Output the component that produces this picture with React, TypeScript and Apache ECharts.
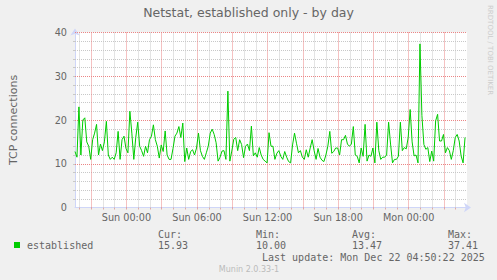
import { useEffect, useRef } from 'react';
import * as echarts from 'echarts';

// Time axis in hours relative to Sun 00:00
const AXIS_START_HOUR = -4.375;
const AXIS_END_HOUR = 28.9583;
const FIRST_SAMPLE_HOUR = -4.375;
const SAMPLE_STEP_HOURS = 1 / 6; // 10 minutes

const ESTABLISHED = [
  12.8, 11.5, 23, 12, 20, 20.5, 15, 14, 11, 15.5, 17, 19, 12, 14.5, 13, 15, 19.7, 12, 11, 11.5,
  11, 12.5, 17.4, 11, 15.5, 16.3, 13.5, 12.5, 22, 17, 11, 16, 19.5, 14,
  13, 11.7, 14, 12.5, 15.5, 16.3, 18.9, 15.5, 14, 11.3, 14.3, 12.8, 17.5, 12, 11, 11, 13.5, 16.3,
  17, 18.5, 16, 19.3, 10.5, 13.6, 11, 12.8, 13.2, 12, 13.6, 17, 13, 11.7, 11,
  12.5, 14, 17, 17.9, 16.7, 14.8, 10.6, 11.5, 12.9, 13, 11, 26.6, 10.6, 12.9, 15.6, 16, 13, 15.5,
  14.4, 11.4, 14, 14.5, 13, 18.6, 11.8, 12.5, 11.5, 13.7, 12, 11, 10.6, 10.2, 17.1, 14,
  14, 11, 12.4, 13, 11.7, 11, 12.8, 11.5, 10.5, 10.2, 14.3, 17, 14.7, 12.5, 13, 11.5, 11, 13.2,
  11.5, 13.6, 15.5, 13, 11, 13.5, 11.5, 10.8, 10.5, 12, 14, 17.4, 12.4, 12.8, 13.6,
  13.6, 12, 15.5, 15.5, 16.5, 14.5, 14, 14.5, 18.5, 12, 11.7, 10.2, 13.6, 11.7, 19, 10.6, 12, 11.7,
  13.6, 10.2, 19.5, 13, 11, 11.5, 11.5, 12, 19.5, 14.5, 10.2, 11, 11, 11.7, 19.5, 13,
  13.7, 13.4, 16, 22.4, 15, 11.8, 12, 10.2, 37.4, 21, 14.4, 13.3, 13.7, 10.5, 12.9, 10.6, 19.8,
  21.3, 15.2, 15.2, 16.7, 12.5, 13.7, 13, 11, 13, 16, 16.7, 15.2, 11.8, 10.2, 16,
];

const X_LABEL_HOURS = [0, 6, 12, 18, 24];
const X_LABELS = ['Sun 00:00', 'Sun 06:00', 'Sun 12:00', 'Sun 18:00', 'Mon 00:00'];
const Y_LABEL_VALUES = [0, 10, 20, 30, 40];
const Y_MIN = 0;
const Y_MAX = 40;

const TITLE = 'Netstat, established only - by day';
const Y_NAME = 'TCP connections';
const SERIES_NAME = 'established';
const LEGEND_HEADERS = ['Cur:', 'Min:', 'Avg:', 'Max:'];
const LEGEND_VALUES = ['15.93', '10.00', '13.47', '37.41'];
const LAST_UPDATE = 'Last update: Mon Dec 22 04:50:22 2025';
const FOOTER = 'Munin 2.0.33-1';
const WATERMARK = 'RRDTOOL / TOBI OETIKER';

const FONT = 'DejaVu Sans';
const MONO = 'DejaVu Sans Mono';
const TEXT = '#666666';
const GRAY = '#c8c8c8';
const RED = '#eb8585';
const AXIS = '#CFD6F8';
const GREEN = '#00CC00';

function hourRange(a: number, b: number, keep: (h: number) => boolean) {
  const out: number[] = [];
  for (let h = a; h <= b; h++) if (keep(h)) out.push(h);
  return out;
}

export default function App() {
  const ref = useRef<HTMLDivElement>(null);
  useEffect(() => {
    if (!ref.current) return;
    document.body.style.margin = '0';
    const chart = echarts.init(ref.current, undefined, { renderer: 'svg' });
    const allX = hourRange(Math.ceil(AXIS_START_HOUR), Math.floor(AXIS_END_HOUR), () => true);
    const minorX = allX.filter((h) => Math.abs(h % 3) !== 0);
    const majorX = allX.filter((h) => Math.abs(h % 3) === 0);
    const minorY: number[] = [];
    const majorY: number[] = [];
    for (let v = Y_MIN + 2; v <= Y_MAX; v += 2) (v % 10 === 0 ? majorY : minorY).push(v);
    const data = ESTABLISHED.map((v, i) => [FIRST_SAMPLE_HOUR + i * SAMPLE_STEP_HOURS, v]);

    const gridSeries = (name: string, color: string, xs: number[], ys: number[], z: number) => ({
      type: 'line', name, data: [], z, silent: true,
      markLine: {
        silent: true, symbol: ['none', 'none'], label: { show: false },
        emphasis: { disabled: true }, animation: false,
        lineStyle: { color, width: 1, type: [1, 1], opacity: 1 },
        data: [...xs.map((h) => ({ xAxis: h })), ...ys.map((v) => ({ yAxis: v }))],
      },
    });

    const xBase = { type: 'value', min: AXIS_START_HOUR, max: AXIS_END_HOUR, position: 'bottom' };
    const yBase = { type: 'value', min: Y_MIN, max: Y_MAX, position: 'left' };

    const legendCols = [158, 256, 352, 448];
    const monoText = (text: string, x: number, y: number) => ({
      type: 'text', x, y,
      style: { text, font: `10px "${MONO}"`, fill: TEXT, textVerticalAlign: 'middle', verticalAlign: 'middle' },
    });

    const graphic: any[] = [
      {
        type: 'text', left: 'center', top: 6,
        style: { text: TITLE, font: `12.5px "${FONT}"`, fill: TEXT },
      },
      {
        type: 'text', x: 493, y: 5, rotation: -Math.PI / 2,
        style: { text: WATERMARK, font: `7px "${FONT}"`, fill: '#cccccc', textAlign: 'left', align: 'left', textVerticalAlign: 'top', verticalAlign: 'top' },
      },
      { type: 'rect', shape: { x: 14, y: 242, width: 6, height: 6 }, style: { fill: GREEN } },
      monoText(SERIES_NAME, 27, 245),
      ...LEGEND_HEADERS.map((h, i) => monoText(h, legendCols[i], 234)),
      ...LEGEND_VALUES.map((h, i) => monoText(h, legendCols[i], 245)),
      monoText(LAST_UPDATE, 262, 257),
      {
        type: 'text', x: 249, y: 269,
        style: { text: FOOTER, font: `8px "${FONT}"`, fill: '#bbbbbb', textAlign: 'center', align: 'center', textVerticalAlign: 'middle', verticalAlign: 'middle' },
      },
    ];

    chart.setOption({
      animation: false,
      backgroundColor: '#f0f0f0',
      grid: { left: 67, right: 30, top: 32.5, bottom: 72.5, show: true, backgroundColor: '#ffffff', borderWidth: 0 },
      xAxis: [
        {
          ...xBase,
          axisLine: { show: true, onZero: false, lineStyle: { color: AXIS, width: 1 }, symbol: ['none', 'arrow'], symbolSize: [7, 7], symbolOffset: [0, 4] },
          axisTick: { show: true, customValues: allX, length: 2, lineStyle: { color: '#e0a8a8' } },
          axisLabel: {
            show: true, customValues: X_LABEL_HOURS, margin: 5,
            color: TEXT, fontSize: 9.7, fontFamily: FONT,
            formatter: (v: number) => {
              const i = X_LABEL_HOURS.indexOf(Math.round(v));
              return i >= 0 ? X_LABELS[i] : '';
            },
          },
          splitLine: { show: false },
        },
      ],
      yAxis: [
        {
          ...yBase,
          axisLine: { show: true, onZero: false, lineStyle: { color: AXIS, width: 1 }, symbol: ['none', 'arrow'], symbolSize: [7, 7], symbolOffset: [0, 4] },
          axisTick: { show: true, customValues: [...minorY, ...majorY], length: 2, lineStyle: { color: GRAY } },
          axisLabel: {
            show: true, customValues: Y_LABEL_VALUES, margin: 8,
            color: TEXT, fontSize: 9.7, fontFamily: FONT,
          },
          splitLine: { show: false },
          name: Y_NAME, nameLocation: 'middle', nameGap: 56, nameRotate: 90,
          nameTextStyle: { color: TEXT, fontSize: 11, fontFamily: FONT },
        },
      ],
      series: [
        gridSeries('grid-minor', GRAY, minorX, minorY, 1),
        gridSeries('grid-major', RED, majorX, majorY, 2),
        {
          type: 'line', name: SERIES_NAME,
          data, showSymbol: false, symbol: 'none',
          lineStyle: { color: GREEN, width: 1 }, z: 5,
        },
      ],
      graphic,
    });
    return () => chart.dispose();
  }, []);
  return <div ref={ref} style={{ position: 'absolute', left: 0, top: 0, width: 497, height: 280 }} />;
}
